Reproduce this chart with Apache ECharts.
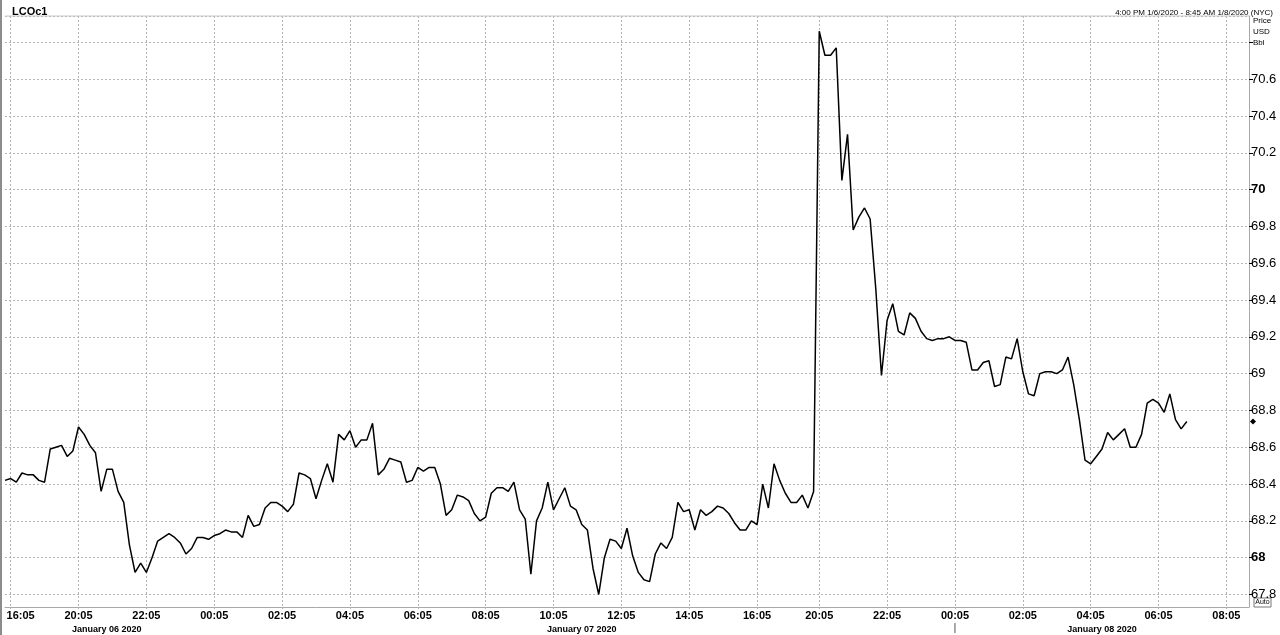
<!DOCTYPE html>
<html>
<head>
<meta charset="utf-8">
<script src="https://cdn.jsdelivr.net/npm/echarts@6/dist/echarts.min.js"></script>
<style>
  html, body { margin: 0; padding: 0; background: #fff; }
  #chart { width: 1280px; height: 635px; }
</style>
</head>
<body>
<div id="chart"></div>
<script>
// ---- Data ----
const title = 'LCOc1';
const rangeText = '4:00 PM 1/6/2020 - 8:45 AM 1/8/2020 (NYC)';
const unitLines = ['Price', 'USD', 'Bbl'];

// trading sessions shown on the axis (10-minute sampling, market gaps removed)
const sessions = [
  ['2020-01-06T15:55', '2020-01-06T17:55'],
  ['2020-01-06T20:05', '2020-01-07T17:45'],
  ['2020-01-07T20:05', '2020-01-08T08:45']
];
const stepMinutes = 10;

const tickLabels = [
  '2020-01-06 16:05', '2020-01-06 20:05', '2020-01-06 22:05',
  '2020-01-07 00:05', '2020-01-07 02:05', '2020-01-07 04:05', '2020-01-07 06:05',
  '2020-01-07 08:05', '2020-01-07 10:05', '2020-01-07 12:05', '2020-01-07 14:05',
  '2020-01-07 16:05', '2020-01-07 20:05', '2020-01-07 22:05',
  '2020-01-08 00:05', '2020-01-08 02:05', '2020-01-08 04:05', '2020-01-08 06:05',
  '2020-01-08 08:05'
];
const dateLabelAt = ['2020-01-06 20:55', '2020-01-07 10:55', '2020-01-08 04:25'];
const dateLabelText = ['January 06 2020', 'January 07 2020', 'January 08 2020'];
const daySeparatorAt = ['2020-01-08 00:05'];

const prices = [
  68.42, 68.43, 68.41, 68.46, 68.45, 68.45, 68.42, 68.41, 68.59, 68.60,
  68.61, 68.55, 68.58, 68.71, 68.67, 68.61, 68.57, 68.36, 68.48, 68.48,
  68.36, 68.30, 68.07, 67.92, 67.97, 67.92, 68.00, 68.09, 68.11, 68.13,
  68.11, 68.08, 68.02, 68.05, 68.11, 68.11, 68.10, 68.12, 68.13, 68.15,
  68.14, 68.14, 68.11, 68.23, 68.17, 68.18, 68.27, 68.30, 68.30, 68.28,
  68.25, 68.29, 68.46, 68.45, 68.43, 68.32, 68.42, 68.51, 68.41, 68.67,
  68.64, 68.69, 68.60, 68.64, 68.64, 68.73, 68.45, 68.48, 68.54, 68.53,
  68.52, 68.41, 68.42, 68.49, 68.47, 68.49, 68.49, 68.40, 68.23, 68.26,
  68.34, 68.33, 68.31, 68.24, 68.20, 68.22, 68.35, 68.38, 68.38, 68.36,
  68.41, 68.26, 68.21, 67.91, 68.20, 68.27, 68.41, 68.26, 68.32, 68.38,
  68.28, 68.26, 68.18, 68.15, 67.94, 67.80, 68.00, 68.10, 68.09, 68.05,
  68.16, 68.01, 67.92, 67.88, 67.87, 68.02, 68.08, 68.05, 68.11, 68.30,
  68.25, 68.26, 68.15, 68.26, 68.23, 68.25, 68.28, 68.27, 68.24, 68.19,
  68.15, 68.15, 68.20, 68.18, 68.40, 68.27, 68.51, 68.42, 68.35, 68.30,
  68.30, 68.34, 68.27, 68.36, 70.86, 70.73, 70.73, 70.77, 70.05, 70.30,
  69.78, 69.85, 69.90, 69.84, 69.46, 68.99, 69.29, 69.38, 69.23, 69.21,
  69.33, 69.30, 69.23, 69.19, 69.18, 69.19, 69.19, 69.20, 69.18, 69.18,
  69.17, 69.02, 69.02, 69.06, 69.07, 68.93, 68.94, 69.09, 69.08, 69.19,
  69.01, 68.89, 68.88, 69.00, 69.01, 69.01, 69.00, 69.02, 69.09, 68.94,
  68.75, 68.53, 68.51, 68.55, 68.59, 68.68, 68.64, 68.67, 68.70, 68.60,
  68.60, 68.67, 68.84, 68.86, 68.84, 68.79, 68.89, 68.75, 68.70, 68.74
];
const boldValues = [68, 70];
const labelMax = 70.6;   // highest labelled price
const yMin = 67.732;
const yMax = 70.943;

// ---- Build categories ----
function pad(n) { return (n < 10 ? '0' : '') + n; }
function fmt(d) {
  return d.getUTCFullYear() + '-' + pad(d.getUTCMonth() + 1) + '-' + pad(d.getUTCDate()) +
    ' ' + pad(d.getUTCHours()) + ':' + pad(d.getUTCMinutes());
}
const categories = [];
sessions.forEach(function (s) {
  let t = new Date(s[0] + ':00Z').getTime();
  const end = new Date(s[1] + ':00Z').getTime();
  while (t <= end) { categories.push(fmt(new Date(t))); t += stepMinutes * 60000; }
});

const FONT = "Arial, 'Liberation Sans', sans-serif";
const isTick = function (idx, val) { return tickLabels.indexOf(val) >= 0; };
const isDate = function (idx, val) { return dateLabelAt.indexOf(val) >= 0; };

const chart = echarts.init(document.getElementById('chart'), null, { renderer: 'canvas' });
const option = {
  animation: false,
  backgroundColor: '#ffffff',
  grid: { left: 5, right: 31, top: 16, bottom: 28, containLabel: false, outerBoundsMode: 'none' },
  title: [
    { text: title, left: 7, top: 1, textStyle: { fontFamily: FONT, fontSize: 11, fontWeight: 'bold', color: '#000' } },
    { text: rangeText, right: 2, top: 4, textStyle: { fontFamily: FONT, fontSize: 8, fontWeight: 'normal', color: '#000' } }
  ],
  xAxis: [
    {
      type: 'category',
      data: categories,
      boundaryGap: false,
      position: 'bottom',
      axisLine: { show: true, lineStyle: { color: '#a8a8a8', width: 1 } },
      axisTick: { show: true, interval: isTick, length: 4, lineStyle: { color: '#b0b0b0', type: [2, 2] } },
      axisLabel: {
        interval: isTick, margin: 3, fontFamily: FONT, fontSize: 11, fontWeight: 'bold', color: '#000',
        hideOverlap: false,
        formatter: function (v) {
          const t = v.slice(11);
          return v === tickLabels[0] ? '{first|' + t + '}' : t;
        },
        rich: { first: { fontFamily: FONT, fontSize: 11, fontWeight: 'bold', color: '#000', padding: [0, 0, 0, 20] } }
      },
      splitLine: { show: true, interval: isTick, lineStyle: { color: '#b4b4b4', width: 1, type: [2, 2] } }
    },
    {
      type: 'category',
      data: categories,
      boundaryGap: false,
      position: 'bottom',
      offset: 16,
      axisLine: { show: false },
      axisTick: { show: false },
      splitLine: { show: false },
      axisLabel: {
        interval: isDate, margin: 2, fontFamily: FONT, fontSize: 9, fontWeight: 'bold', color: '#000',
        formatter: function (v) { const k = dateLabelAt.indexOf(v); return k >= 0 ? dateLabelText[k] : ''; }
      }
    }
  ],
  yAxis: {
    type: 'value',
    position: 'right',
    min: yMin,
    max: yMax,
    splitNumber: 16,
    axisLine: { show: true, lineStyle: { color: '#a8a8a8', width: 1 } },
    axisTick: { show: true, length: 4, lineStyle: { color: '#000' } },
    axisLabel: {
      showMinLabel: false, showMaxLabel: false, margin: 2,
      fontFamily: FONT, fontSize: 13, color: '#000',
      formatter: function (v) {
        const r = Math.round(v * 10) / 10;
        if (Math.abs(r * 5 - Math.round(r * 5)) > 1e-6 || Math.abs(v - r) > 1e-6) return '';
        if (r > labelMax + 1e-6) return '';
        const s = String(r);
        return boldValues.indexOf(r) >= 0 ? '{b|' + s + '}' : s;
      },
      rich: { b: { fontFamily: FONT, fontSize: 13, fontWeight: 'bold', color: '#000' } }
    },
    splitLine: { show: true, lineStyle: { color: '#b4b4b4', width: 1, type: [2, 2] } }
  },
  series: [{
    type: 'line',
    data: prices,
    xAxisIndex: 0,
    showSymbol: false,
    symbol: 'none',
    lineStyle: { color: '#000', width: 1.5 },
    z: 5
  }]
};
chart.setOption(option);

// ---- decorations positioned through the chart's own scales ----
const gridRect = chart.getModel().getComponent('grid', 0).coordinateSystem.getRect();
const lastVal = prices[prices.length - 1];
const lastY = chart.convertToPixel({ yAxisIndex: 0 }, lastVal);
const axisX = gridRect.x + gridRect.width;
const sepX = chart.convertToPixel({ xAxisIndex: 0 }, daySeparatorAt[0]);
const bottomY = gridRect.y + gridRect.height;

const graphics = [
  { type: 'rect', shape: { x: 0, y: 0, width: 2, height: 635 }, style: { fill: '#8c8c8c' }, silent: true },
  { type: 'line', shape: { x1: gridRect.x, y1: gridRect.y, x2: axisX, y2: gridRect.y }, style: { stroke: '#c8c8c8', lineWidth: 1 }, silent: true },
  { type: 'polygon', shape: { points: [[axisX + 4, lastY - 3], [axisX + 7, lastY], [axisX + 4, lastY + 3], [axisX + 1, lastY]] }, style: { fill: '#000' }, silent: true },
  { type: 'line', shape: { x1: sepX, y1: bottomY + 16, x2: sepX, y2: bottomY + 26 }, style: { stroke: '#555', lineWidth: 1 }, silent: true },
  { type: 'rect', shape: { x: axisX + 5, y: bottomY - 9, width: 17, height: 9 }, style: { fill: '#fff', stroke: '#777', lineWidth: 1 }, silent: true },
  { type: 'text', x: axisX + 13.5, y: bottomY - 4.5, style: { text: 'Auto', font: '7px ' + FONT, fill: '#000', align: 'center', verticalAlign: 'middle' }, silent: true }
];
unitLines.forEach(function (t, k) {
  graphics.push({ type: 'text', x: axisX + 4, y: 21 + k * 11, style: { text: t, font: '8px ' + FONT, fill: '#000', align: 'left', verticalAlign: 'middle' }, silent: true });
});
chart.setOption({ graphic: graphics });
</script>
</body>
</html>
